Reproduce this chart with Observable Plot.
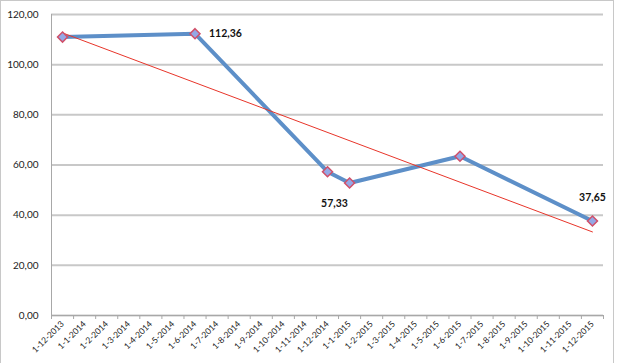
<!DOCTYPE html>
<html>
<head>
<meta charset="utf-8">
<script src="https://cdn.jsdelivr.net/npm/d3@7"></script>
<script src="https://cdn.jsdelivr.net/npm/@observablehq/plot@0.6"></script>
<style>
  html, body { margin: 0; padding: 0; background: #fff; }
  #wrap { position: relative; width: 617px; height: 363px; overflow: hidden; }
  #frame { position: absolute; left: 0; top: 0; width: 614px; height: 400px; border: 1px solid #c8c8c8; box-sizing: border-box; pointer-events: none; }
</style>
</head>
<body>
<div id="wrap"><div id="frame"></div></div>
<script>
const categories = ["1-12-2013","1-1-2014","1-2-2014","1-3-2014","1-4-2014","1-5-2014","1-6-2014","1-7-2014","1-8-2014","1-9-2014","1-10-2014","1-11-2014","1-12-2014","1-1-2015","1-2-2015","1-3-2015","1-4-2015","1-5-2015","1-6-2015","1-7-2015","1-8-2015","1-9-2015","1-10-2015","1-11-2015","1-12-2015"];
const obsDates = ["1-12-2013","1-6-2014","1-12-2014","1-1-2015","1-6-2015","1-12-2015"];
const obsValues = [111.0, 112.36, 57.33, 52.8, 63.5, 37.65];
const labelDates = ["1-6-2014","1-12-2014","1-12-2015"];
const yTicks = [0, 20, 40, 60, 80, 100, 120];

const fmt = v => v.toFixed(2).replace(".", ",");
const obs = obsDates.map((d, i) => ({i: categories.indexOf(d), v: obsValues[i]}));

// linear trendline (least squares on category index)
const mx = d3.mean(obs, d => d.i), my = d3.mean(obs, d => d.v);
const slope = d3.sum(obs, d => (d.i - mx) * (d.v - my)) / d3.sum(obs, d => (d.i - mx) ** 2);
const icpt = my - slope * mx;
const i0 = categories.indexOf(obsDates[0]), i1 = categories.indexOf(obsDates[obsDates.length - 1]);
const trend = [i0, i1].map(i => ({i, v: icpt + slope * i}));

const labels = labelDates.map(d => obs[obsDates.indexOf(d)]);
const lab = {
  "1-6-2014": {dx: 14, dy: 0, anchor: "start"},
  "1-12-2014": {dx: 7, dy: 32, anchor: "middle"},
  "1-12-2015": {dx: 0, dy: -23, anchor: "middle"}
};

const chart = Plot.plot({
  width: 617,
  height: 363,
  marginLeft: 51,
  marginRight: 14,
  marginTop: 14,
  marginBottom: 48,
  style: {fontFamily: "Lato, 'Open Sans', sans-serif", fontSize: "10px", color: "#222", background: "transparent"},
  x: {type: "linear", domain: [-0.5, categories.length - 0.5]},
  y: {domain: [0, 120]},
  marks: [
    Plot.gridY(yTicks, {stroke: "#c8c8c8", strokeWidth: 2, strokeOpacity: 1}),
    Plot.ruleX([-0.5], {y1: 0, y2: 120, stroke: "#a8a8a8", strokeWidth: 1}),
    Plot.ruleY([0], {stroke: "#a8a8a8", strokeWidth: 1}),
    Plot.axisY({ticks: yTicks, tickFormat: fmt, tickSize: 0, tickPadding: 13, label: null, fontSize: 10}),
    Plot.axisX({ticks: d3.range(-0.5, categories.length, 1), tickFormat: () => "", tickSize: 4, stroke: "#a8a8a8", label: null}),
    Plot.axisX({ticks: d3.range(0, categories.length), tickFormat: i => categories[i], tickSize: 0, tickPadding: 7, tickRotate: -45, label: null, fontSize: 8.5}),
    Plot.line(obs, {x: "i", y: "v", stroke: "#5d8fc8", strokeWidth: 4, strokeLinejoin: "round"}),
    Plot.line(trend, {x: "i", y: "v", stroke: "#e8352a", strokeWidth: 1}),
    Plot.dot(obs, {x: "i", y: "v", symbol: "diamond2", r: 4.5, fill: "#94a8e6", stroke: "#d0506a", strokeWidth: 1.5}),
    ...labelDates.map((d, k) => Plot.text([labels[k]], {
      x: "i", y: "v", text: e => fmt(e.v), dx: lab[d].dx, dy: lab[d].dy, textAnchor: lab[d].anchor,
      fontWeight: "bold", fontSize: 10.5, fill: "#111"
    }))
  ]
});
document.getElementById("wrap").prepend(chart);
</script>
</body>
</html>
